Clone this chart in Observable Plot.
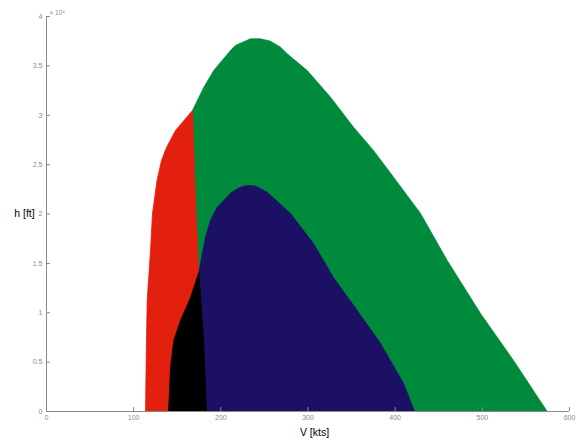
<!DOCTYPE html>
<html><head><meta charset="utf-8">
<script src="https://cdn.jsdelivr.net/npm/d3@7"></script>
<script src="https://cdn.jsdelivr.net/npm/@observablehq/plot@0.6"></script>
<style>body{margin:0;background:#fff;} #chart svg{display:block;}</style>
</head><body><div id="chart"></div>
<script>
// Boundaries of the flight envelopes, [V kts, h ft]
const bigLeft = [[113.6,0],[114.5,6180],[115.5,11240],[119.3,16300],[121.6,20050],[126.8,23390],[131.9,25420],[137.7,26740],[148.0,28460],[160.6,29770],[167.5,30480]];
const bigTop = [[167.5,30480],[180.5,32840],[191.9,34530],[211.1,36560],[216.8,37070],[234.0,37740],[245.5,37740],[257.0,37500],[268.5,36890],[276.1,36220],[299.1,34530],[325.8,31830],[352.2,28790],[375.1,26430],[398.1,23730],[429.1,20050],[459.7,15290],[497.9,9920],[535.8,5160],[574.4,0]];
const divLine = [[183.6,0],[180.1,7490],[174.7,14080],[170.9,21370],[167.5,30480]];
const smallLeft = [[140.0,0],[141.1,2130],[142.3,4460],[146.0,7190],[153.7,9210],[165.2,11540],[174.7,14080]];
const smallTop = [[174.7,14080],[176.7,14990],[182.4,17650],[188.1,19340],[195.8,20690],[203.4,21370],[211.1,22110],[218.8,22550],[226.3,22820],[232.1,22890],[239.8,22820],[253.2,22210],[279.9,20050],[306.3,17010],[329.2,13570],[356.4,10230],[383.2,6890],[409.6,2840],[422.2,0]];
const xTicks = [0,100,200,300,400,500,600];
const yTicks = [0,5000,10000,15000,20000,25000,30000,35000,40000];
const yTickLabels = ["0","0.5","1","1.5","2","2.5","3","3.5","4"];

const greenPoly = [...divLine, ...bigTop.slice(1)];
const redPoly = [...bigLeft, ...divLine.slice().reverse().slice(1)];
const lowDiv = divLine.slice(0,3);
const navyPoly = [...lowDiv, ...smallTop.slice(1)];
const blackPoly = [...smallLeft, ...lowDiv.slice().reverse().slice(1)];

const W = 579, H = 441, ML = 46, MR = 10, MT = 16, MB = 30;
const axisGray = "#8a8a8a";
const font = "'Liberation Sans', Arial, sans-serif";

function poly(data, color) {
  return Plot.line(data, {x: d => d[0], y: d => d[1], fill: color, stroke: color, strokeWidth: 0.8});
}

const chart = Plot.plot({
  width: W, height: H,
  marginLeft: ML, marginRight: MR, marginTop: MT, marginBottom: MB,
  style: {fontFamily: font, background: "#fff", overflow: "visible"},
  x: {domain: [0, 600], axis: null},
  y: {domain: [0, 40000], axis: null},
  marks: [
    poly(greenPoly, "#008a3b"),
    poly(redPoly, "#e2200d"),
    poly(navyPoly, "#1b1064"),
    poly(blackPoly, "#000000"),
    Plot.ruleY([0], {stroke: axisGray, strokeWidth: 1}),
    Plot.ruleX([0], {stroke: axisGray, strokeWidth: 1}),
    Plot.tickX(xTicks, {x: d => d, stroke: axisGray, insetTop: H - MT - MB - 4}),
    Plot.tickY(yTicks, {y: d => d, stroke: axisGray, insetRight: W - ML - MR - 4}),
    Plot.text(xTicks, {x: d => d, y: 0, text: d => String(d), dy: 6, lineAnchor: "middle", fontSize: 7, fill: axisGray}),
    Plot.text(yTicks, {x: 0, y: d => d, text: (d, i) => yTickLabels[i], dx: -4, textAnchor: "end", fontSize: 7, fill: axisGray}),
    Plot.text(["× 10⁴"], {frameAnchor: "top-left", dx: 3, dy: -6, textAnchor: "start", fontSize: 6.5, fill: axisGray}),
    Plot.text(["V [kts]"], {frameAnchor: "bottom", dx: 314 - (ML + W - MR) / 2, dy: 21, lineAnchor: "middle", fontSize: 10.5, fill: "#000"}),
    Plot.text(["h [ft]"], {frameAnchor: "left", dx: -22, dy: 0, textAnchor: "middle", fontSize: 10.5, fill: "#000"})
  ]
});
document.getElementById("chart").appendChild(chart);
</script>
</body></html>
